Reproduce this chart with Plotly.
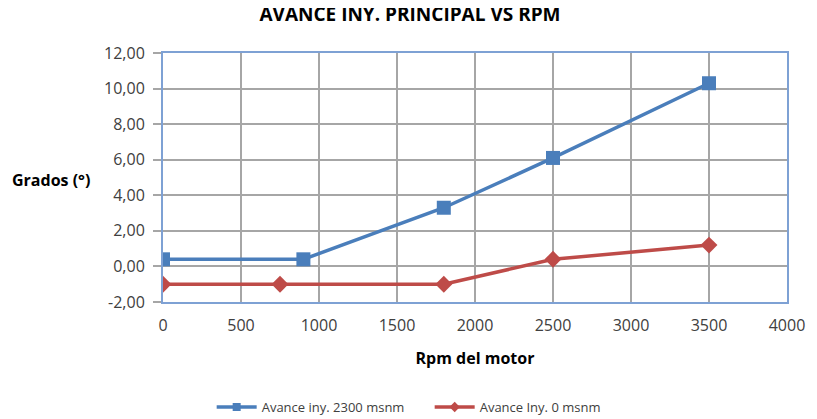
import plotly.graph_objects as go

rpm_2300 = [0, 900, 1800, 2500, 3500]
grados_2300 = [0.4, 0.4, 3.3, 6.1, 10.3]
rpm_0 = [0, 750, 1800, 2500, 3500]
grados_0 = [-1.0, -1.0, -1.0, 0.4, 1.2]
y_ticks = [-2, 0, 2, 4, 6, 8, 10, 12]
y_tick_labels = ["-2,00", "0,00", "2,00", "4,00", "6,00", "8,00", "10,00", "12,00"]
x_ticks = [0, 500, 1000, 1500, 2000, 2500, 3000, 3500, 4000]
series_names = ["Avance iny. 2300 msnm", "Avance Iny. 0 msnm"]

blue = "#4A7EBB"
red = "#BE4B48"
font = "Open Sans"

W, H = 809, 411
L, R, T, B = 155, 21, 45, 117
PW, PH = W - L - R, H - T - B

fig = go.Figure()
fig.add_trace(go.Scatter(x=rpm_2300, y=grados_2300, mode="lines+markers",
                         name=series_names[0], showlegend=False,
                         line=dict(color=blue, width=3.5),
                         marker=dict(symbol="square", size=14, color=blue)))
fig.add_trace(go.Scatter(x=rpm_0, y=grados_0, mode="lines+markers",
                         name=series_names[1], showlegend=False,
                         line=dict(color=red, width=3.5),
                         marker=dict(symbol="diamond", size=13, color=red)))
# legend entries with smaller icons
fig.add_trace(go.Scatter(x=[None], y=[None], mode="lines+markers", name=series_names[0],
                         line=dict(color=blue, width=3.5),
                         marker=dict(symbol="square", size=8, color=blue)))
fig.add_trace(go.Scatter(x=[None], y=[None], mode="lines+markers", name=series_names[1],
                         line=dict(color=red, width=3.5),
                         marker=dict(symbol="diamond", size=8, color=red)))

fig.update_layout(
    width=W, height=H,
    margin=dict(l=L, r=R, t=T, b=B),
    paper_bgcolor="white", plot_bgcolor="white",
    font=dict(family=font, size=16, color="#404040"),
    title=dict(text="<b>AVANCE INY. PRINCIPAL VS RPM</b>", x=402 / W, xanchor="center", xref="container",
               y=1, yanchor="top", yref="container", pad=dict(t=0, b=0),
               font=dict(size=19, color="#000000", family=font)),
    showlegend=True,
    legend=dict(orientation="h", x=0.078, xanchor="left", y=12 / H, yanchor="middle",
                xref="paper", yref="container",
                font=dict(size=13, color="#404040"), itemwidth=40,
                entrywidth=163, bgcolor="rgba(0,0,0,0)"),
)
fig.update_xaxes(range=[0, 4000], tickvals=x_ticks, tickformat=".0f",
                 showgrid=True, gridcolor="#A6A6A6", gridwidth=1.5,
                 showline=True, linecolor="#7EA1D4", linewidth=2, mirror=True,
                 ticks="", zeroline=False, ticklabelstandoff=8,
                 title=dict(text="<b>Rpm del motor</b>", font=dict(size=16, color="#000000"), standoff=18))
fig.update_yaxes(range=[-2, 12], tickvals=y_ticks, ticktext=y_tick_labels,
                 showgrid=True, gridcolor="#A6A6A6", gridwidth=1.5,
                 showline=True, linecolor="#7EA1D4", linewidth=2, mirror=True,
                 ticks="outside", ticklen=8, tickcolor="#A6A6A6", tickwidth=1.5,
                 ticklabelstandoff=5, zeroline=False)
fig.add_annotation(text="<b>Grados (°)</b>", xref="paper", yref="paper",
                   x=-155 / PW, y=(294 - 172) / PH, xanchor="left", yanchor="middle", showarrow=False,
                   font=dict(size=16, color="#000000"))

fig.write_html("out.html")
